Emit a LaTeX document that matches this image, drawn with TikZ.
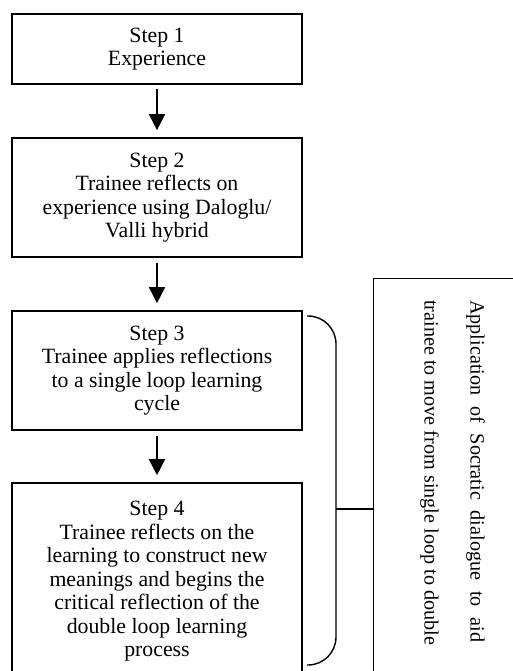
\documentclass[tikz,border=0pt]{standalone}
\usepackage{fontspec}
\setmainfont{Liberation Serif}
\usetikzlibrary{arrows.meta}
\begin{document}
\begin{tikzpicture}[x=1pt,y=-1pt,
  stepbox/.style={draw, line width=1.7pt, minimum width=290pt, inner sep=0pt,
    align=center, font=\fontsize{21.8}{23.5}\selectfont},
  flow/.style={line width=1.8pt, -{Triangle[width=16pt,length=16pt]}},
  bracket/.style={line width=1.4pt, rounded corners=28pt},
  link/.style={line width=1.2pt},
  sidebox/.style={draw, line width=1.2pt, minimum width=220pt, minimum height=460pt,
    anchor=north west, inner sep=0pt},
  sidetext/.style={rotate=-90, anchor=north west, inner sep=0pt, align=left,
    font=\fontsize{20.2}{46}\selectfont}]
\useasboundingbox (0,0) rectangle (513,671);
\clip (0,0) rectangle (513,671);
\fill[white] (0,0) rectangle (513,671);

\node[stepbox, minimum height=70pt] (s1) at (157,49) {Step 1\\Experience};
\node[stepbox, minimum height=119pt] (s2) at (157,197.5)
  {Step 2\\Trainee reflects on\\experience using Daloglu/\\Valli hybrid};
\node[stepbox, minimum height=119pt] (s3) at (157,370.5)
  {Step 3\\Trainee applies reflections\\to a single loop learning\\cycle};
\node[stepbox, minimum height=197pt] (s4) at (157,581.5)
  {Step 4\\Trainee reflects on the\\learning to construct new\\meanings and begins the\\critical reflection of the\\double loop learning\\process};

\draw[flow] ([yshift=-4pt]s1.south) -- ([yshift=7pt]s2.north);
\draw[flow] ([yshift=-5pt]s2.south) -- ([yshift=7pt]s3.north);
\draw[flow] ([yshift=-5pt]s3.south) -- ([yshift=7pt]s4.north);

\coordinate (bt) at (307,316);
\coordinate (bb) at (307,665);
\coordinate (bm) at (336,509);
\draw[bracket] (bt) -- (336,316) -- (336,665) -- (bb);

\node[sidebox] (side) at (373,278) {};
\draw[link] (bm) -- (side.west |- bm);

\node[sidetext] (stext) at (485,300)
  {\makebox[342pt][s]{Application of Socratic dialogue to aid}\\
   \makebox[345pt][s]{trainee to move from single loop to double}};
\end{tikzpicture}
\end{document}
